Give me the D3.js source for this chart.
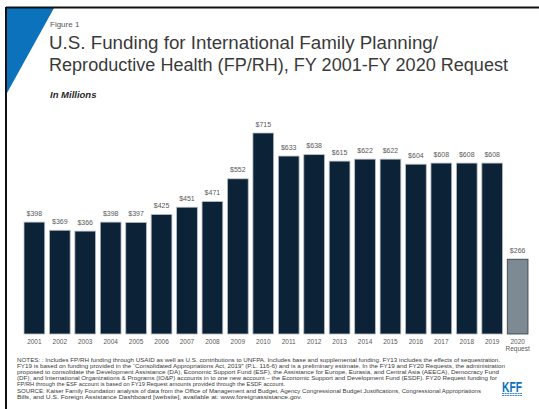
<!DOCTYPE html>
<html>
<head>
<meta charset="utf-8">
<script src="https://cdn.jsdelivr.net/npm/d3@7"></script>
<style>
    html, body { margin: 0; padding: 0; background: #fff; }
    svg { display: block; font-family: 'Liberation Sans', Arial, sans-serif; }
</style>
</head>
<body>
<div id="chart"></div>
<script>
'use strict';

const years = ['2001', '2002', '2003', '2004', '2005', '2006', '2007', '2008', '2009', '2010',
    '2011', '2012', '2013', '2014', '2015', '2016', '2017', '2018', '2019', '2020'];
const funding = [398, 369, 366, 398, 397, 425, 451, 471, 552, 715,
    633, 638, 615, 622, 622, 604, 608, 608, 608, 266];
const requestYear = '2020';

const titleLines = [
    'U.S. Funding for International Family Planning/',
    'Reproductive Health (FP/RH), FY 2001-FY 2020 Request'
];
const noteLines = [
    'NOTES: : Includes FP/RH funding through USAID as well as U.S. contributions to UNFPA. Includes base and supplemental funding. FY13 includes the effects of sequestration.',
    'FY19 is based on funding provided in the \u201cConsolidated Appropriations Act, 2019\u201d (P.L. 116-6) and is a preliminary estimate. In the FY19 and FY20 Requests, the administration',
    'proposed to consolidate the Development Assistance (DA), Economic Support Fund (ESF), the Assistance for Europe, Eurasia, and Central Asia (AEECA), Democracy Fund',
    '(DF), and International Organizations & Programs (IO&P) accounts in to one new account \u2013 the Economic Support and Development Fund (ESDF). FY20 Request funding for',
    'FP/RH through the ESF account is based on FY19 Request amounts provided through the ESDF account.',
    'SOURCE: Kaiser Family Foundation analysis of data from the Office of Management and Budget, Agency Congressional Budget Justifications, Congressional Appropriations',
    'Bills, and U.S. Foreign Assistance Dashboard [website], available at: www.foreignassistance.gov.'
];
const noteWidths = [483, 488, 482, 480, 268, 464, 285];

const palette = {
    bar: '#0b2237',
    barEdge: '#b9bec4',
    request: '#7d8a93',
    requestEdge: '#2f3a44',
    label: '#595959',
    title: '#3a3a3a',
    blue: '#0b72bb'
};

const width = 539, height = 409;
const margins = { left: 24, right: 11, top: 133, bottom: 75 };

const svg = d3.select('#chart').append('svg')
    .attr('width', width)
    .attr('height', height);

// frame + corner triangle
svg.append('path')
    .attr('d', 'M7,8 L54,8 L7,93 Z')
    .attr('fill', palette.blue);
svg.append('line')
    .attr('x1', 6).attr('y1', 7.5).attr('x2', width).attr('y2', 7.5)
    .attr('stroke', '#111').attr('stroke-width', 2);
svg.append('line')
    .attr('x1', 6).attr('y1', 7).attr('x2', 6).attr('y2', height)
    .attr('stroke', '#111').attr('stroke-width', 2);

// header
svg.append('text')
    .attr('x', 50).attr('y', 27)
    .style('font-size', '8px')
    .style('fill', '#555')
    .text('Figure 1');

svg.selectAll('.title-line')
    .data(titleLines)
    .join('text')
    .attr('class', 'title-line')
    .attr('x', 49)
    .attr('y', (d, i) => 49 + i * 21.5)
    .attr('textLength', (d, i) => i === 0 ? 389 : 459)
    .attr('lengthAdjust', 'spacingAndGlyphs')
    .style('font-size', '17.5px')
    .style('fill', palette.title)
    .text(d => d);

svg.append('text')
    .attr('x', 50).attr('y', 98)
    .style('font-size', '9.5px')
    .style('font-weight', 'bold')
    .style('font-style', 'italic')
    .style('fill', '#2a2a2a')
    .text('In Millions');

// bars
const scaleX = d3.scaleBand()
    .domain(years)
    .range([margins.left, width - margins.right])
    .paddingInner(0.185)
    .paddingOuter(0);

const scaleY = d3.scaleLinear()
    .domain([0, 715])
    .range([height - margins.bottom, margins.top]);

const rows = years.map((year, i) => ({ year, value: funding[i] }));
const chartGroup = svg.append('g');

chartGroup.selectAll('rect')
    .data(rows)
    .join('rect')
    .attr('x', d => scaleX(d.year))
    .attr('y', d => scaleY(d.value))
    .attr('width', scaleX.bandwidth())
    .attr('height', d => scaleY(0) - scaleY(d.value))
    .attr('fill', d => d.year === requestYear ? palette.request : palette.bar)
    .attr('stroke', d => d.year === requestYear ? palette.requestEdge : palette.barEdge)
    .attr('stroke-width', 0.8);

chartGroup.selectAll('.value-label')
    .data(rows)
    .join('text')
    .attr('class', 'value-label')
    .attr('x', d => scaleX(d.year) + scaleX.bandwidth() / 2)
    .attr('y', d => scaleY(d.value) - 6.5)
    .attr('text-anchor', 'middle')
    .style('font-size', '7px')
    .style('fill', palette.label)
    .text(d => `$${d.value}`);

// x axis
const axisXGroup = svg.append('g')
    .attr('transform', `translate(0, ${scaleY(0)})`)
    .call(d3.axisBottom(scaleX).tickSize(0).tickPadding(5));
axisXGroup.select('.domain').remove();
axisXGroup.selectAll('text')
    .style('font-family', "'Liberation Sans', Arial, sans-serif")
    .style('font-size', '6.5px')
    .style('fill', palette.label);
axisXGroup.selectAll('.tick')
    .filter(d => d === requestYear)
    .append('text')
    .attr('y', 12.5)
    .attr('dy', '0.71em')
    .attr('text-anchor', 'middle')
    .style('font-size', '6.5px')
    .style('fill', palette.label)
    .text('Request');

// notes
svg.selectAll('.note-line')
    .data(noteLines)
    .join('text')
    .attr('class', 'note-line')
    .attr('x', 17)
    .attr('y', (d, i) => 362 + i * 6.1)
    .attr('textLength', (d, i) => noteWidths[i])
    .attr('lengthAdjust', 'spacingAndGlyphs')
    .style('font-size', '5.2px')
    .style('fill', '#3a3a3a')
    .text(d => d);

// logo
const logo = svg.append('g').attr('transform', 'translate(502, 380)');
logo.append('text')
    .attr('x', 0).attr('y', 12)
    .attr('textLength', 20)
    .attr('lengthAdjust', 'spacingAndGlyphs')
    .style('font-size', '15px')
    .style('font-weight', 'bold')
    .style('fill', palette.blue)
    .text('KFF');
[13.5, 15.5].forEach(y => {
    logo.append('line')
        .attr('x1', 0).attr('x2', 20).attr('y1', y).attr('y2', y)
        .attr('stroke', palette.blue)
        .attr('stroke-width', 0.8)
        .attr('stroke-dasharray', '2,0.6');
});
</script>
</body>
</html>
